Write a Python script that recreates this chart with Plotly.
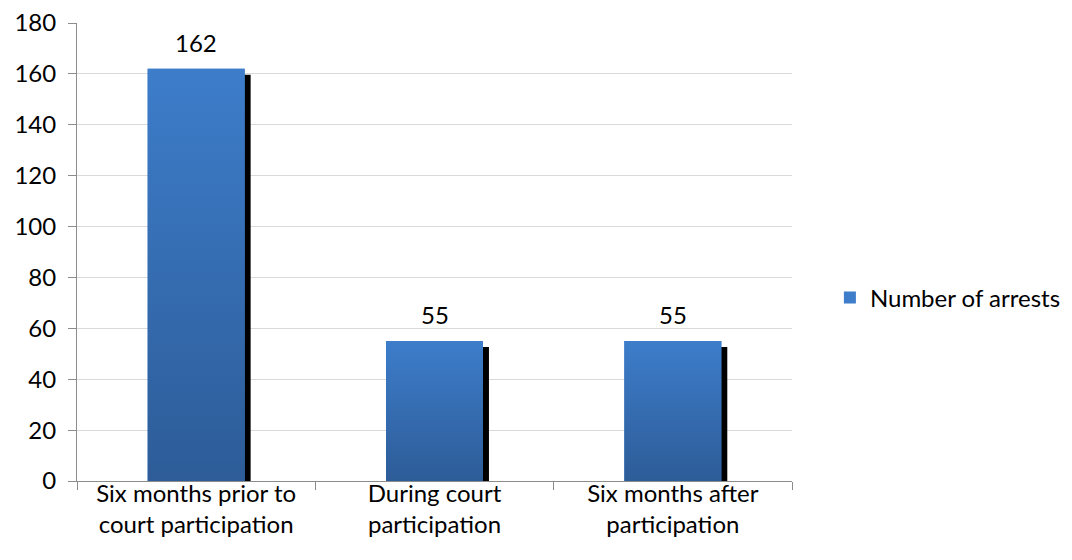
import plotly.graph_objects as go

# Chart data
categories = ["Six months prior to<br>court participation",
              "During court<br>participation",
              "Six months after<br>participation"]
arrests = [162, 55, 55]
series_name = "Number of arrests"
y_ticks = [0, 20, 40, 60, 80, 100, 120, 140, 160, 180]

FONT = "Lato"
FS = 24
TEXT = "#000000"
TOP_BLUE = "#3D7DCA"
BOTTOM_BLUE = "#2D5C98"
BAR_W = 0.407          # bar width in category units
SHADOW_DX = 0.025      # shadow shift to the right (category units)
SHADOW_DY = 2.3        # shadow top sits this far below the bar top (value units)
SHADOW_BASE = -1.0     # shadow reaches slightly below the baseline

xs = list(range(len(categories)))

fig = go.Figure()

# drop shadow behind each bar
fig.add_trace(go.Bar(
    x=xs, y=[v - SHADOW_DY - SHADOW_BASE for v in arrests], base=SHADOW_BASE,
    width=BAR_W, offset=-BAR_W / 2 + SHADOW_DX,
    marker=dict(color="#000000", line=dict(width=0)),
    cliponaxis=False, showlegend=False, hoverinfo="skip",
))

# the bars themselves (solid fill, used for the legend entry)
fig.add_trace(go.Bar(
    x=xs, y=arrests, width=BAR_W, name=series_name,
    marker=dict(color=TOP_BLUE, line=dict(width=0)),
    cliponaxis=False,
))

# vertical gradient face on top of each bar
for xi, v in zip(xs, arrests):
    x0, x1 = xi - BAR_W / 2, xi + BAR_W / 2
    fig.add_trace(go.Scatter(
        x=[x0, x1, x1, x0, x0], y=[0, 0, v, v, 0],
        mode="lines", fill="toself", line=dict(width=0),
        fillgradient=dict(type="vertical",
                          colorscale=[[0, BOTTOM_BLUE], [1, TOP_BLUE]]),
        showlegend=False, hoverinfo="skip",
    ))

# value labels above the bars
for xi, v in zip(xs, arrests):
    fig.add_annotation(x=xi, y=v, text=str(v), showarrow=False,
                       yanchor="bottom", yshift=10,
                       font=dict(family=FONT, size=FS, color=TEXT))

fig.update_layout(
    width=1072, height=560,
    margin=dict(l=77, r=280, t=23, b=79, autoexpand=False),
    paper_bgcolor="white", plot_bgcolor="white",
    barmode="overlay",
    font=dict(family=FONT, size=FS, color=TEXT),
    showlegend=True,
    legend=dict(x=1.053, y=0.40, xanchor="left", yanchor="middle",
                font=dict(family=FONT, size=FS, color=TEXT),
                itemwidth=30, bgcolor="rgba(0,0,0,0)"),
    xaxis=dict(
        range=[-0.5, 2.5], tickvals=xs, ticktext=categories,
        showgrid=False, zeroline=False,
        showline=True, linecolor="#8C8C8C", linewidth=1,
        ticks="", ticklabelstandoff=-9,
        tickfont=dict(family=FONT, size=FS, color=TEXT),
        minor=dict(tickvals=[-0.5, 0.5, 1.5, 2.5], ticks="outside",
                   ticklen=8, tickcolor="#8C8C8C", showgrid=False),
        fixedrange=True,
    ),
    yaxis=dict(
        range=[0, 180], tickvals=y_ticks,
        showgrid=True, gridcolor="#D9D9D9", gridwidth=1,
        zeroline=False, showline=True, linecolor="#8C8C8C", linewidth=1,
        ticks="outside", ticklen=8, tickcolor="#8C8C8C",
        ticklabelstandoff=7,
        tickfont=dict(family=FONT, size=FS, color=TEXT),
        fixedrange=True,
    ),
)

fig.write_html("out.html")
